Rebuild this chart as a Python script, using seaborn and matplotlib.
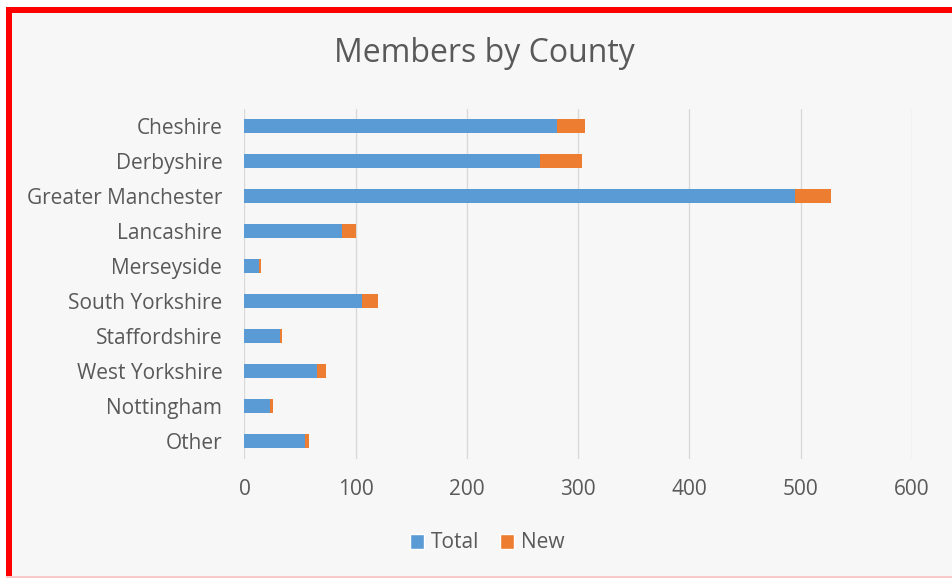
import numpy as np
import pandas as pd
import matplotlib
matplotlib.use("Agg")
import matplotlib.pyplot as plt
from matplotlib.patches import Rectangle, Patch
import seaborn as sns

# Data
counties = ["Cheshire", "Derbyshire", "Greater Manchester", "Lancashire", "Merseyside",
            "South Yorkshire", "Staffordshire", "West Yorkshire", "Nottingham", "Other"]
total = [281, 266, 495, 88, 13, 106, 32, 65, 23, 54]
new = [25, 37, 32, 12, 1.5, 14, 2, 8, 3, 4]

blue = "#5B9BD5"
orange = "#ED7D31"
bg = "#F7F7F7"
text_col = "#595959"

sns.set_style("white")
plt.rcParams["font.family"] = ["Open Sans", "DejaVu Sans"]

W, H = 953, 578
fig = plt.figure(figsize=(W / 100, H / 100), dpi=100)
fig.patch.set_facecolor(bg)

def px_rect(x0, y0, x1, y1, color):
    # rectangle in pixel coords (y from top)
    fig.add_artist(Rectangle((x0 / W, 1 - y1 / H), (x1 - x0) / W, (y1 - y0) / H,
                             transform=fig.transFigure, facecolor=color,
                             edgecolor="none", zorder=10))

# white margin outside the red frame
px_rect(0, 0, W, 7, "white")
px_rect(0, 0, 6, H, "white")
# red frame
px_rect(6, 7, W, 13, "#FF0000")
px_rect(6, 7, 12, H, "#FF0000")
px_rect(6, 576, W, H, "#F8C8C8")

ax = fig.add_axes([244.5 / W, 1 - 458.5 / H, (912 - 244.5) / W, 350 / H])
ax.set_facecolor(bg)

df = pd.DataFrame({"county": counties, "Total": total, "New": new})
df["sum"] = df["Total"] + df["New"]

sns.barplot(data=df, x="sum", y="county", color=orange, width=0.4,
            saturation=1, linewidth=0, ax=ax, zorder=3)
sns.barplot(data=df, x="Total", y="county", color=blue, width=0.4,
            saturation=1, linewidth=0, ax=ax, zorder=4)

ax.set_xlim(0, 600)
ax.set_ylim(9.5, -0.5)
ax.set_xticks(range(0, 700, 100))
ax.grid(axis="x", color="#D9D9D9", linewidth=1, zorder=0)
for s in ax.spines.values():
    s.set_visible(False)
ax.set_xlabel("")
ax.set_ylabel("")
ax.tick_params(axis="both", length=0, colors=text_col, labelsize=15)
ax.tick_params(axis="x", pad=15)
ax.tick_params(axis="y", pad=16)

fig.text(484 / W, 1 - 54 / H, "Members by County", ha="center", va="center",
         fontsize=23, color=text_col)

handles = [Patch(facecolor=blue, label="Total"), Patch(facecolor=orange, label="New")]
fig.legend(handles=handles, loc="center", bbox_to_anchor=(487 / W, 1 - 543 / H),
           ncol=2, frameon=False, fontsize=15, labelcolor=text_col,
           handlelength=0.7, handleheight=0.7, handletextpad=0.3, columnspacing=1.0)

fig.savefig("out.png", dpi=100, facecolor=fig.get_facecolor())
